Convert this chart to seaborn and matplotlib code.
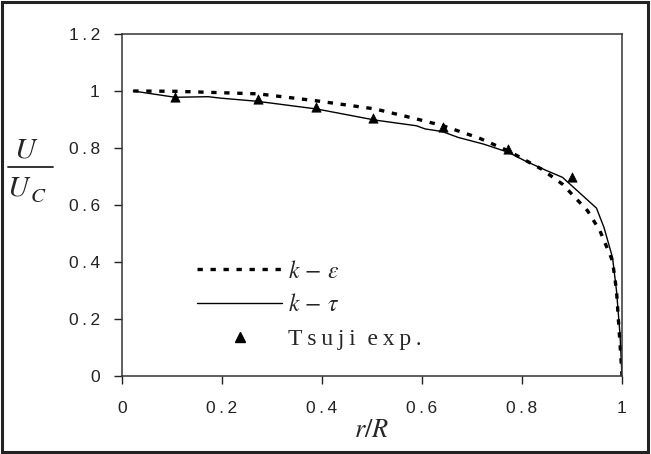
import matplotlib
matplotlib.use("Agg")
import matplotlib.pyplot as plt
import seaborn as sns
import pandas as pd
from matplotlib.patches import Rectangle
from matplotlib.lines import Line2D

# ---- data ----
ke_r = [0.0225, 0.106, 0.2725, 0.387, 0.506, 0.589, 0.642, 0.714, 0.7725, 0.839,
        0.881, 0.931, 0.956, 0.981, 0.989, 0.993, 0.997, 1.0]
ke_u = [1.0, 0.999, 0.99, 0.966, 0.937, 0.902, 0.878, 0.835, 0.79, 0.726,
        0.673, 0.58, 0.509, 0.404, 0.30, 0.193, 0.088, 0.0]

kt_r = [0.0225, 0.106, 0.1725, 0.197, 0.27, 0.389, 0.506, 0.589, 0.606, 0.64,
        0.6725, 0.7225, 0.7725, 0.806, 0.8475, 0.881, 0.949, 0.964, 0.981,
        0.989, 0.996, 1.0]
kt_u = [1.0, 0.978, 0.98, 0.975, 0.964, 0.937, 0.898, 0.878, 0.867, 0.858,
        0.837, 0.814, 0.785, 0.755, 0.722, 0.697, 0.589, 0.521, 0.416,
        0.299, 0.146, 0.0]

exp_r = [0.106, 0.2725, 0.387, 0.502, 0.642, 0.7725, 0.899]
exp_u = [0.98, 0.972, 0.943, 0.905, 0.872, 0.796, 0.70]

xticks = [0, 0.2, 0.4, 0.6, 0.8, 1]
xtick_labels = ["0", "0.2", "0.4", "0.6", "0.8", "1"]
yticks = [0, 0.2, 0.4, 0.6, 0.8, 1, 1.2]
ytick_labels = ["0", "0.2", "0.4", "0.6", "0.8", "1", "1.2"]

sns.set_style("ticks")
plt.rcParams["mathtext.fontset"] = "stix"
plt.rcParams["font.family"] = ["Liberation Sans", "DejaVu Sans"]

TS = "\u2009"  # thin space, used as letter spacing


def spaced(s):
    return TS.join(list(s))


fig = plt.figure(figsize=(6.51, 4.54), dpi=100)
ax = fig.add_axes([122 / 651, 78 / 454, 500 / 651, 342 / 454])

df_ke = pd.DataFrame({"r": ke_r, "u": ke_u})
df_kt = pd.DataFrame({"r": kt_r, "u": kt_u})
df_ex = pd.DataFrame({"r": exp_r, "u": exp_u})

sns.lineplot(data=df_ke, x="r", y="u", ax=ax, color="black", lw=2.4,
             sort=False, legend=False)
ax.lines[-1].set_dashes((1.6, 2.3))
sns.lineplot(data=df_kt, x="r", y="u", ax=ax, color="black", lw=1.0,
             sort=False, legend=False)
sns.scatterplot(data=df_ex, x="r", y="u", ax=ax, color="black", marker="^",
                s=45, edgecolor="black", linewidth=0.5, legend=False,
                zorder=5)

ax.set_xlim(0, 1)
ax.set_ylim(0, 1.2)
ax.set_xticks(xticks)
ax.set_xticklabels([spaced(t) for t in xtick_labels])
ax.set_yticks(yticks)
ax.set_yticklabels([spaced(t) for t in ytick_labels])
ax.tick_params(direction="out", length=6, width=1.0, labelsize=12.5,
               colors="#222222")
ax.tick_params(axis="y", pad=10)
ax.tick_params(axis="x", pad=12)
for s in ax.spines.values():
    s.set_visible(True)
    s.set_color("#333333")
    s.set_linewidth(1.1)

ax.set_xlabel("")
ax.set_ylabel("")

h_ke = Line2D([], [], color="black", lw=2.4, dashes=(1.6, 2.3))
h_kt = Line2D([], [], color="black", lw=1.0)
h_ex = Line2D([], [], color="black", marker="^", ls="none", markersize=7)
leg = ax.legend([h_ke, h_kt, h_ex],
                [r"$k\,-\,\varepsilon$", r"$k\,-\,\tau$", spaced("Tsuji") + "  " + spaced("exp.")],
                loc="center left", bbox_to_anchor=(0.15, 0.207),
                frameon=False, handlelength=3.6, handletextpad=0.25,
                labelspacing=0.5, borderpad=0, borderaxespad=0,
                prop={"family": "Liberation Serif", "size": 17})

fig.text(372 / 651, 1 - 430 / 454, r"$r/R$", ha="center", va="center",
         fontsize=19)

# y label drawn as a stacked fraction U / U_C
fig.text(26 / 651, 1 - 149 / 454, r"$U$", ha="center", va="center",
         fontsize=21)
fig.add_artist(Line2D([8 / 651, 53 / 651], [1 - 167 / 454, 1 - 167 / 454],
                      transform=fig.transFigure, color="#222222", lw=1.3))
fig.text(19 / 651, 1 - 188 / 454, r"$U$", ha="center", va="center",
         fontsize=21)
fig.text(38 / 651, 1 - 196 / 454, r"$C$", ha="center", va="center",
         fontsize=15)

fig.add_artist(Rectangle((0.003, 0.004), 0.992, 0.992,
                         transform=fig.transFigure, fill=False,
                         edgecolor="#222222", lw=2.2))

fig.savefig("out.png", dpi=100)
